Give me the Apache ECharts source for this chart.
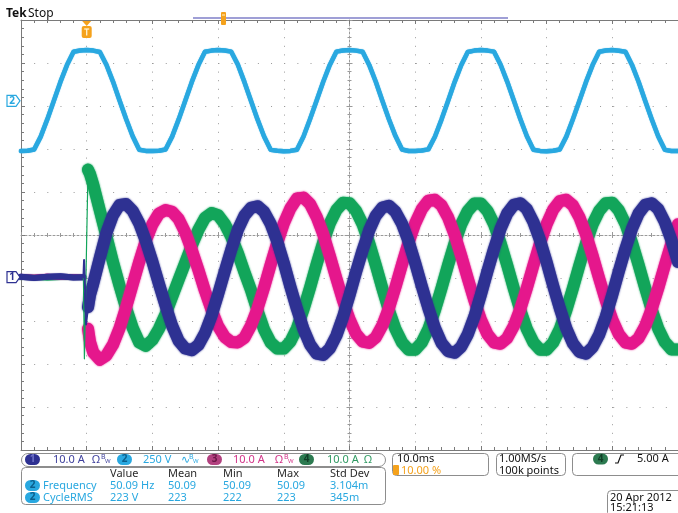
<!DOCTYPE html>
<html>
<head>
<meta charset="utf-8">
<script src="https://cdn.jsdelivr.net/npm/echarts@6.0.0/dist/echarts.min.js"></script>
<style>
  html, body { margin: 0; padding: 0; background: #ffffff; }
  #scope { width: 678px; height: 513px; }
</style>
</head>
<body>
<div id="scope"></div>
<script>
// ---- Acquisition: 10 ms/div, trigger at 10 % of the record (t = 0) ----
// Time axis of the screen (ms)
const timeMin = -10;
const timeMax = 90;

// Channel 2 : line voltage, 250 V/div, sampled every 1 ms from -10 ms to 90 ms
const ch2Time = [];
for (let t = -10; t <= 90; t++) ch2Time.push(t);
const ch2Volts = [
  -292, -290, -283, -208, -108, 0, 110, 208, 285, 293,
  295, 292, 284, 210, 112, 2, -106, -206, -284, -291,
  -292, -290, -283, -208, -108, 0, 110, 208, 285, 292,
  295, 293, 286, 211, 110, 0, -108, -207, -285, -290,
  -293, -291, -284, -207, -106, 2, 111, 209, 286, 293,
  296, 292, 285, 209, 111, 1, -107, -205, -283, -292,
  -292, -289, -282, -209, -109, -1, 109, 207, 284, 292,
  295, 292, 286, 210, 112, 3, -105, -206, -284, -291,
  -293, -290, -283, -208, -107, 1, 110, 208, 285, 293,
  295, 291, 286, 209, 111, 0, -107, -207, -285, -292,
  -291
];

// Channels 1, 3, 4 : phase currents, 10 A/div
// before the trigger (ms / A)
const preTime = [-10, -8, -6, -4, -2, -0.5];
const ch1Pre = [0.1, -0.2, 0.1, 0.2, -0.1, 0.0];
const ch3Pre = [0.1, 0.0, 0.2, 0.0, 0.1, 0.0];
const ch4Pre = [-0.1, 0.0, -0.2, -0.1, 0.0, -0.1];

// switching edge around the trigger
const ch1EdgeTime = [-0.5, -0.4, -0.25, -0.1, 0.2];
const ch1Edge = [0, 4, -3, -11, -7];
const ch4EdgeTime = [-0.5, -0.35, 0.2];
const ch4Edge = [0, -19, 25];

// after the trigger: 0.2 ms, 0.5 ms, then every 1 ms up to 90 ms
const postTime = [0.2, 0.5];
for (let t = 1; t <= 90; t++) postTime.push(t);

const ch1Amps = [
  -7.0, -4.2,
  -1.5, 4.5, 10.3, 14.4, 16.8, 17.0, 15.4, 12.5, 8.4, 3.6,
  -1.6, -6.6, -11.3, -14.8, -16.6, -17.0, -15.8, -13.0, -9.0, -4.0,
  1.3, 6.4, 11.0, 14.3, 16.1, 16.5, 15.2, 12.4, 8.3, 3.3,
  -2.2, -7.4, -12.1, -15.7, -17.8, -18.1, -16.6, -13.6, -9.3, -4.2,
  1.2, 6.3, 10.9, 14.3, 16.2, 16.6, 15.2, 12.4, 8.3, 3.3,
  -2.1, -7.2, -11.8, -15.3, -17.2, -17.6, -16.2, -13.3, -9.2, -4.1,
  1.4, 6.6, 11.3, 14.8, 16.8, 17.2, 15.8, 12.8, 8.6, 3.5,
  -2.0, -7.2, -11.9, -15.4, -17.4, -17.8, -16.3, -13.4, -9.2, -4.1,
  1.4, 6.6, 11.3, 14.8, 16.8, 17.2, 15.8, 12.8, 8.6, 3.5
];
const ch3Amps = [
  -12.0, -15.0,
  -17.5, -19.2, -18.2, -15.7, -11.9, -7.0, -1.7, 3.6, 8.5, 12.3,
  14.8, 15.6, 15.2, 13.5, 10.4, 6.3, 1.7, -3.2, -7.6, -11.4,
  -13.9, -15.1, -15.2, -14.1, -11.3, -7.3, -2.4, 2.9, 8.0, 12.5,
  16.0, 18.3, 18.5, 17.0, 14.0, 10.0, 5.0, -0.3, -5.4, -9.8,
  -13.2, -15.0, -15.3, -14.0, -11.2, -7.2, -2.3, 3.0, 8.1, 12.5,
  15.8, 17.8, 18.0, 16.7, 13.9, 9.9, 5.0, -0.3, -5.4, -9.9,
  -13.3, -15.2, -15.5, -14.2, -11.4, -7.4, -2.5, 2.8, 7.9, 12.3,
  15.7, 17.7, 18.0, 16.7, 13.9, 9.9, 5.0, -0.3, -5.4, -9.9,
  -13.3, -15.2, -15.5, -14.2, -11.4, -7.4, -2.5, 2.8, 7.9, 12.3
];
const ch4Amps = [
  25.0, 24.0,
  21.5, 15.5, 9.5, 3.5, -2.0, -7.2, -11.8, -15.2, -16.0, -14.6,
  -12.0, -8.6, -4.6, -0.6, 3.4, 7.4, 11.0, 13.8, 14.9, 14.4,
  12.4, 9.4, 5.6, 1.2, -3.0, -7.8, -12.2, -15.2, -16.6, -16.6,
  -15.0, -11.9, -7.5, -2.4, 3.0, 8.1, 12.5, 15.6, 17.3, 17.2,
  15.4, 12.3, 7.9, 2.8, -2.6, -7.7, -12.1, -15.2, -16.9, -16.9,
  -15.2, -12.1, -7.7, -2.6, 2.8, 7.9, 12.3, 15.4, 17.1, 17.1,
  15.4, 12.3, 7.9, 2.8, -2.6, -7.7, -12.1, -15.2, -16.9, -16.9,
  -15.2, -12.1, -7.7, -2.6, 2.8, 7.9, 12.3, 15.4, 17.2, 17.3,
  15.5, 12.4, 8.0, 2.9, -2.5, -7.6, -12.0, -15.1, -16.8, -16.8
];

// Vertical scale / position of each channel (divisions from screen centre)
const ch2VoltsPerDiv = 250, ch2Offset = 3.12;
const ampsPerDiv = 10, currentOffset = -0.98;

// Colours
const C1 = '#2e3192', C2 = '#29a8e0', C3 = '#e5178c', C4 = '#12a55a';
const ORANGE = '#f5a21c', GRID = '#9a9a9a', FRAME = '#7a7a7a';
const FONT = '"Noto Sans", "DejaVu Sans", sans-serif';

const zip = (ts, vs) => ts.map((t, i) => [t, vs[i]]);

const chart = echarts.init(document.getElementById('scope'), null, { renderer: 'canvas' });

function traceSeries(name, ts, vs, color, width, yIndex, z, glow) {
  return {
    name, type: 'line', xAxisIndex: 0, yAxisIndex: yIndex,
    data: zip(ts, vs), showSymbol: false, symbol: 'none', z,
    silent: true, animation: false,
    lineStyle: { color, width, join: 'round', cap: 'round', shadowBlur: glow, shadowColor: color }
  };
}

const frameTick = { show: true, inside: true, length: 4, lineStyle: { color: FRAME } };
const frameMinor = { show: true, splitNumber: 5, length: 3, lineStyle: { color: FRAME } };

chart.setOption({
  animation: false,
  backgroundColor: '#ffffff',
  grid: { left: 21, top: 20, width: 658, height: 430, containLabel: false },
  xAxis: [
    { // time axis, bottom edge of graticule
      type: 'value', min: timeMin, max: timeMax, interval: 10, position: 'bottom',
      axisLine: { show: true, onZero: false, lineStyle: { color: FRAME } },
      axisTick: frameTick, minorTick: frameMinor, axisLabel: { show: false },
      splitLine: { show: true, lineStyle: { color: GRID, width: 1, type: [1, 7.6] } }
    },
    { // top edge
      type: 'value', min: timeMin, max: timeMax, interval: 10, position: 'top',
      axisLine: { show: true, onZero: false, lineStyle: { color: FRAME } },
      axisTick: frameTick, minorTick: frameMinor, axisLabel: { show: false },
      splitLine: { show: false }
    },
    { // horizontal centre line, ticks above
      type: 'value', min: -5, max: 5, interval: 1,
      axisLine: { show: true, onZero: true, onZeroAxisIndex: 0, lineStyle: { color: GRID, type: [2, 2] } },
      axisTick: { show: true, inside: true, length: 3, lineStyle: { color: GRID } },
      minorTick: { show: true, splitNumber: 5, length: 2, lineStyle: { color: GRID } },
      axisLabel: { show: false }, splitLine: { show: false }
    },
    { // horizontal centre line, ticks below
      type: 'value', min: -5, max: 5, interval: 1,
      axisLine: { show: false, onZero: true, onZeroAxisIndex: 0 },
      axisTick: { show: true, inside: false, length: 3, lineStyle: { color: GRID } },
      minorTick: { show: true, splitNumber: 5, length: 2, lineStyle: { color: GRID } },
      axisLabel: { show: false }, splitLine: { show: false }
    }
  ],
  yAxis: [
    { // divisions, left edge
      type: 'value', min: -5, max: 5, interval: 1, position: 'left',
      axisLine: { show: true, onZero: false, lineStyle: { color: FRAME } },
      axisTick: frameTick, minorTick: frameMinor, axisLabel: { show: false },
      splitLine: { show: true, lineStyle: { color: GRID, width: 1, type: [1, 12.16] } }
    },
    { // vertical centre line, ticks right
      type: 'value', min: -5, max: 5, interval: 1,
      axisLine: { show: true, onZero: true, onZeroAxisIndex: 2, lineStyle: { color: GRID, type: [2, 2] } },
      axisTick: { show: true, inside: true, length: 3, lineStyle: { color: GRID } },
      minorTick: { show: true, splitNumber: 5, length: 2, lineStyle: { color: GRID } },
      axisLabel: { show: false }, splitLine: { show: false }
    },
    { // vertical centre line, ticks left
      type: 'value', min: -5, max: 5, interval: 1,
      axisLine: { show: false, onZero: true, onZeroAxisIndex: 2 },
      axisTick: { show: true, inside: false, length: 3, lineStyle: { color: GRID } },
      minorTick: { show: true, splitNumber: 5, length: 2, lineStyle: { color: GRID } },
      axisLabel: { show: false }, splitLine: { show: false }
    },
    { // channel 2, volts
      type: 'value', show: false,
      min: -(5 + ch2Offset) * ch2VoltsPerDiv, max: (5 - ch2Offset) * ch2VoltsPerDiv
    },
    { // channels 1/3/4, amps
      type: 'value', show: false,
      min: -(5 + currentOffset) * ampsPerDiv, max: (5 - currentOffset) * ampsPerDiv
    }
  ],
  series: [
    traceSeries('CH2', ch2Time, ch2Volts, C2, 4.5, 3, 3, 1),
    traceSeries('CH4 pre', preTime, ch4Pre, C4, 5, 4, 4, 1),
    traceSeries('CH3 pre', preTime, ch3Pre, C3, 5, 4, 5, 1),
    traceSeries('CH1 pre', preTime, ch1Pre, C1, 6, 4, 6, 1),
    traceSeries('CH4', postTime, ch4Amps, C4, 12, 4, 7, 2),
    traceSeries('CH3', postTime, ch3Amps, C3, 12, 4, 8, 2),
    traceSeries('CH1', postTime, ch1Amps, C1, 12, 4, 9, 2),
    traceSeries('CH4 edge', ch4EdgeTime, ch4Edge, C4, 1.2, 4, 10, 0),
    traceSeries('CH1 edge', ch1EdgeTime, ch1Edge, C1, 2, 4, 11, 0)
  ]
});

// ---------- screen annotations ----------
const trigX = chart.convertToPixel({ xAxisIndex: 0 }, 0);
const ch2Gnd = chart.convertToPixel({ yAxisIndex: 3 }, 0);
const iGnd = chart.convertToPixel({ yAxisIndex: 4 }, 0);

function txt(x, y, s, color, size, weight, align) {
  return {
    type: 'text', x, y, silent: true, z: 50,
    style: {
      text: s, fill: color, font: (weight || '') + ' ' + (size || 11) + 'px ' + FONT,
      textAlign: align || 'left', align: align || 'left',
      textVerticalAlign: 'middle', verticalAlign: 'middle'
    }
  };
}
function box(x, y, w, h, r) {
  return { type: 'rect', silent: true, z: 40, shape: { x: x + 0.5, y: y + 0.5, width: w, height: h, r: r },
    style: { fill: '#ffffff', stroke: '#8d8d8d', lineWidth: 1 } };
}
function badge(x, y, label, fill, ink) {
  return [
    { type: 'rect', silent: true, z: 45, shape: { x, y: y - 5.5, width: 15, height: 11, r: 5.5 }, style: { fill } },
    txt(x + 7.5, y, label, ink, 10, 'bold', 'center')
  ];
}
function gndMarker(y, label, color) {
  return [
    { type: 'polygon', silent: true, z: 45,
      shape: { points: [[7, y - 5.5], [16, y - 5.5], [20, y], [16, y + 5.5], [7, y + 5.5]] },
      style: { fill: '#ffffff', stroke: color, lineWidth: 1.2 } },
    txt(12, y, label, color, 10, 'bold', 'center')
  ];
}
function bw(x, y, color) {
  return [txt(x, y - 3, 'B', color, 7), txt(x + 4, y + 2, 'W', color, 6)];
}

const g = [];
// header
g.push(txt(6, 14, 'Tek', '#111', 12, 'bold'));
g.push(txt(28, 14, 'Stop', '#111', 12));
g.push({ type: 'line', silent: true, z: 40, shape: { x1: 193, y1: 18, x2: 508, y2: 18 }, style: { stroke: '#7f7fc8', lineWidth: 1.5 } });
g.push({ type: 'rect', silent: true, z: 41, shape: { x: 221, y: 12, width: 5, height: 13, r: 1 }, style: { fill: ORANGE } });
g.push({ type: 'line', silent: true, z: 42, shape: { x1: 222, y1: 15, x2: 225, y2: 15 }, style: { stroke: '#fff3d0', lineWidth: 1 } });

// trigger position marker
g.push({ type: 'polygon', silent: true, z: 41, shape: { points: [[trigX - 4.5, 21], [trigX + 4.5, 21], [trigX, 26]] }, style: { fill: ORANGE } });
g.push({ type: 'rect', silent: true, z: 41, shape: { x: trigX - 5, y: 26, width: 10, height: 12, r: 2 }, style: { fill: ORANGE } });
g.push({ type: 'polyline', silent: true, z: 42, shape: { points: [[trigX - 2.5, 29], [trigX + 2.5, 29]] }, style: { stroke: '#fff3d0', lineWidth: 1.3 } });
g.push({ type: 'polyline', silent: true, z: 42, shape: { points: [[trigX, 29], [trigX, 35.5]] }, style: { stroke: '#fff3d0', lineWidth: 1.3 } });

// ground level markers
g.push(...gndMarker(ch2Gnd, '2', C2));
g.push(...gndMarker(iGnd, '1', C1));

// channel readouts
g.push(box(21, 453, 364, 13, 6.5));
g.push(...badge(25, 459.5, '1', C1, '#6f72c8'));
g.push(txt(53, 459.5, '10.0 A', '#3d3f9c'), txt(92, 459.5, 'Ω', '#3d3f9c'), ...bw(101, 459.5, '#3d3f9c'));
g.push(...badge(117, 459.5, '2', C2, '#0b5f8c'));
g.push(txt(143, 459.5, '250 V', C2), txt(181, 459.5, '∿', C2), ...bw(189, 459.5, C2));
g.push(...badge(207, 459.5, '3', '#b2417f', '#6b1848'));
g.push(txt(233, 459.5, '10.0 A', '#d23388'), txt(275, 459.5, 'Ω', '#d23388'), ...bw(284, 459.5, '#d23388'));
g.push(...badge(299, 459.5, '4', '#2c7a50', '#113e27'));
g.push(txt(327, 459.5, '10.0 A', '#2f9a62'), txt(364, 459.5, 'Ω', '#2f9a62'));

// measurement table
g.push(box(21, 467, 364, 37, 4));
const colX = [110, 168, 223, 277, 330];
['Value', 'Mean', 'Min', 'Max', 'Std Dev'].forEach((s, i) => g.push(txt(colX[i], 473.5, s, '#2a2a2a')));
const measRows = [
  ['Frequency', '50.09 Hz', '50.09', '50.09', '50.09', '3.104m'],
  ['CycleRMS', '223 V', '223', '222', '223', '345m']
];
measRows.forEach((row, r) => {
  const y = 485.5 + r * 12;
  g.push(...badge(25, y, '2', C2, '#0b5f8c'));
  g.push(txt(43, y, row[0], C2));
  row.slice(1).forEach((s, i) => g.push(txt(colX[i], y, s, C2)));
});

// timebase
g.push(box(392, 453, 96, 22, 4));
g.push(txt(397, 459, '10.0ms', '#111'));
g.push({ type: 'rect', silent: true, z: 45, shape: { x: 393, y: 465, width: 6, height: 10, r: 1 }, style: { fill: ORANGE } });
g.push(txt(401, 470.5, '10.00 %', ORANGE));
// acquisition
g.push(box(496, 453, 69, 22, 4));
g.push(txt(499, 459, '1.00MS/s', '#111'));
g.push(txt(499, 470.5, '100k points', '#111'));
// trigger
g.push(box(572, 453, 112, 22, 4));
g.push(...badge(593, 459, '4', '#2c7a50', '#113e27'));
g.push({ type: 'polyline', silent: true, z: 45, shape: { points: [[615, 463], [618, 463], [621, 455], [624, 455]] }, style: { stroke: '#111', lineWidth: 1.2 } });
g.push(txt(637, 459, '5.00 A', '#111'));
// date
g.push(box(607, 490, 78, 26, 4));
g.push(txt(610, 497.5, '20 Apr 2012', '#111'));
g.push(txt(610, 508, '15:21:13', '#111'));

chart.setOption({ graphic: { elements: g } });
</script>
</body>
</html>
